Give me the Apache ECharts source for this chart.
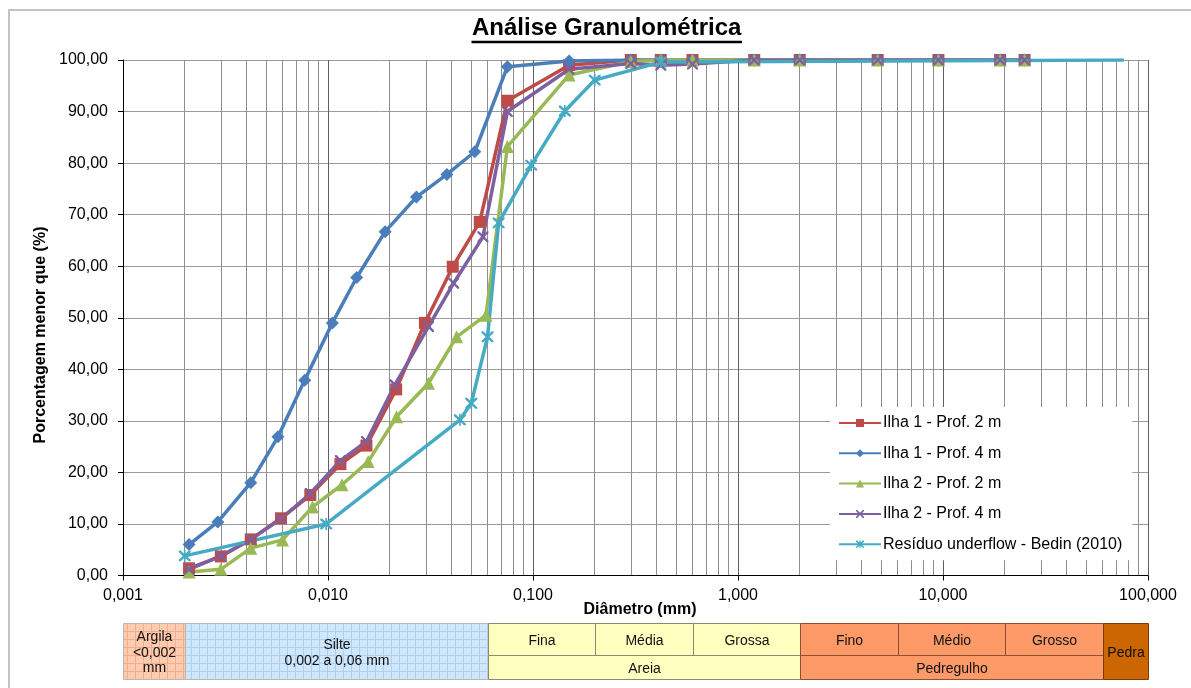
<!DOCTYPE html>
<html>
<head>
<meta charset="utf-8">
<script src="https://cdn.jsdelivr.net/npm/echarts@6/dist/echarts.min.js"></script>
<style>
html,body{margin:0;padding:0;background:#fff;}
#chart{width:1191px;height:688px;}
</style>
</head>
<body>
<div id="chart"></div>
<script>
// ---------------- DATA ----------------
const seriesNames = [
  'Ilha 1 - Prof. 2 m',
  'Ilha 1 - Prof. 4 m',
  'Ilha 2 - Prof. 2 m',
  'Ilha 2 - Prof. 4 m',
  'Resíduo underflow - Bedin (2010)'
];

const diamIlha1Prof2 = [0.0021, 0.0030, 0.0042, 0.0059, 0.0082, 0.0115, 0.0154, 0.0215, 0.0297, 0.0406, 0.055, 0.075, 0.15, 0.3, 0.42, 0.6, 1.2, 2.0, 4.8, 9.5, 19, 25];
const pctIlha1Prof2  = [1.4, 3.7, 7.0, 11.1, 15.6, 21.6, 25.2, 36.1, 49.0, 59.9, 68.6, 92.1, 99.0, 100, 100, 100, 100, 100, 100, 100, 100, 100];

const diamIlha1Prof4 = [0.0021, 0.0029, 0.0042, 0.0057, 0.0077, 0.0105, 0.0138, 0.019, 0.027, 0.038, 0.052, 0.075, 0.15, 0.3, 0.42, 0.6, 1.2, 2.0, 4.8, 9.5, 19, 25];
const pctIlha1Prof4  = [6.0, 10.4, 18.0, 26.9, 37.9, 49.0, 57.8, 66.7, 73.4, 77.8, 82.2, 98.7, 99.8, 100, 100, 100, 100, 100, 100, 100, 100, 100];

const diamIlha2Prof2 = [0.0021, 0.0030, 0.0042, 0.0060, 0.0084, 0.0117, 0.0157, 0.0216, 0.0309, 0.0424, 0.059, 0.075, 0.15, 0.3, 0.42, 0.6, 1.2, 2.0, 4.8, 9.5, 19, 25];
const pctIlha2Prof2  = [0.7, 1.2, 5.3, 6.9, 13.3, 17.6, 22.1, 30.8, 37.3, 46.3, 50.5, 83.2, 97.1, 99.7, 100, 100, 100, 100, 100, 100, 100, 100];

const diamIlha2Prof4 = [0.0021, 0.0030, 0.0042, 0.0059, 0.0082, 0.0115, 0.0154, 0.0212, 0.0309, 0.041, 0.057, 0.075, 0.15, 0.3, 0.42, 0.6, 1.2, 2.0, 4.8, 9.5, 19, 25];
const pctIlha2Prof4  = [1.2, 3.8, 7.0, 11.0, 15.9, 22.3, 26.0, 37.0, 48.3, 56.7, 65.7, 90.0, 98.2, 99.3, 99.0, 99.2, 100, 100, 100, 100, 100, 100];

const diamBedin = [0.002, 0.0098, 0.044, 0.050, 0.060, 0.068, 0.098, 0.143, 0.2, 0.42, 76.2];
const pctBedin  = [3.8, 10.0, 30.2, 33.4, 46.3, 68.4, 79.6, 90.1, 96.1, 99.6, 100];

const xTickLabels = ['0,001', '0,010', '0,100', '1,000', '10,000', '100,000'];
const yTickLabels = ['0,00', '10,00', '20,00', '30,00', '40,00', '50,00', '60,00', '70,00', '80,00', '90,00', '100,00'];

// Grain-size classification table (diameter limits in mm)
const zoneNames = ['Argila\n<0,002\nmm', 'Silte\n0,002 a 0,06 mm', 'Fina', 'Média', 'Grossa', 'Areia', 'Fino', 'Médio', 'Grosso', 'Pedregulho', 'Pedra'];
const zoneFrom  = [0.001, 0.002, 0.06, 0.2, 0.6, 0.06, 2, 6, 20, 2, 60];
const zoneTo    = [0.002, 0.06, 0.2, 0.6, 2, 2, 6, 20, 60, 60, 100];
const zoneRow   = ['full', 'full', 'top', 'top', 'top', 'bottom', 'top', 'top', 'top', 'bottom', 'full'];
const zoneKind  = ['argila', 'silte', 'areia', 'areia', 'areia', 'areia', 'pedregulho', 'pedregulho', 'pedregulho', 'pedregulho', 'pedra'];

// ---------------- STYLE ----------------
const FONT = '"Liberation Sans", Arial, Helvetica, sans-serif';
const colors = ['#BE4B48', '#4A7EBB', '#98B954', '#7D60A0', '#46AAC5'];
const ROW_SPAN = { full: [0, 56], top: [0, 32], bottom: [32, 56] };

function makePattern(bg, line, size) {
  const c = document.createElement('canvas');
  c.width = size; c.height = size;
  const g = c.getContext('2d');
  g.fillStyle = bg; g.fillRect(0, 0, size, size);
  g.fillStyle = line;
  g.fillRect(size - 1, 0, 1, size);
  g.fillRect(0, size - 1, size, 1);
  return { image: c, repeat: 'repeat' };
}

const ZONE_STYLE = {
  argila:     { fill: makePattern('#fdcbb0', '#f5ae8c', 8), stroke: '#b8b8b8' },
  silte:      { fill: makePattern('#d0e6fb', '#acd0f0', 8), stroke: '#b8b8b8' },
  areia:      { fill: '#ffffc0', stroke: '#8a8a70' },
  pedregulho: { fill: '#fe9a68', stroke: '#8a5030' },
  pedra:      { fill: '#cc6600', stroke: '#7a3a10' }
};

const symX = 'path://M0,0L3,0L10,7L17,0L20,0L20,3L13,10L20,17L20,20L17,20L10,13L3,20L0,20L0,17L7,10L0,3Z';
const symAst = 'path://M0,0L3,0L10,7L17,0L20,0L20,3L13,10L20,17L20,20L17,20L10,13L3,20L0,20L0,17L7,10L0,3Z M8.6,-1L11.4,-1L11.4,21L8.6,21Z';

const seriesDefs = [
  { d: diamIlha1Prof2, v: pctIlha1Prof2, symbol: 'rect', size: 12 },
  { d: diamIlha1Prof4, v: pctIlha1Prof4, symbol: 'diamond', size: 13 },
  { d: diamIlha2Prof2, v: pctIlha2Prof2, symbol: 'triangle', size: 13 },
  { d: diamIlha2Prof4, v: pctIlha2Prof4, symbol: symX, size: 11 },
  { d: diamBedin, v: pctBedin, symbol: symAst, size: 12, hideLast: true }
];

// lines (legend entries) – markers drawn by overlay scatter series on top
const lineSeries = seriesDefs.map((s, i) => ({
  name: seriesNames[i],
  type: 'line',
  xAxisIndex: 0,
  yAxisIndex: 0,
  data: s.d.map((d, k) => [d, s.v[k]]),
  symbol: s.symbol,
  symbolSize: s.size,
  showSymbol: false,
  lineStyle: { color: colors[i], width: 3.5 },
  itemStyle: { color: colors[i] },
  z: 3,
  animation: false,
  silent: true
}));

const markerSeries = seriesDefs.map((s, i) => ({
  name: seriesNames[i] + ' (marcadores)',
  type: 'scatter',
  xAxisIndex: 0,
  yAxisIndex: 0,
  data: s.d.map((d, k) => [d, s.v[k]]),
  symbol: s.symbol,
  symbolSize: function (val, params) {
    return (s.hideLast && params.dataIndex === s.d.length - 1) ? 0 : s.size;
  },
  itemStyle: { color: colors[i], opacity: 1 },
  z: 5,
  animation: false,
  silent: true
}));

const tableSeries = {
  type: 'custom',
  xAxisIndex: 1,
  yAxisIndex: 1,
  silent: true,
  clip: false,
  animation: false,
  data: zoneNames.map((n, i) => [zoneFrom[i], zoneTo[i], i]),
  encode: { x: [0, 1] },
  renderItem: function (params, api) {
    const i = api.value(2);
    const span = ROW_SPAN[zoneRow[i]];
    const p0 = api.coord([api.value(0), span[0]]);
    const p1 = api.coord([api.value(1), span[1]]);
    const st = ZONE_STYLE[zoneKind[i]];
    const x = Math.round(p0[0]) + 0.5, y = Math.round(p0[1]) + 0.5;
    const w = Math.round(p1[0]) - Math.round(p0[0]);
    const h = Math.round(p1[1]) - Math.round(p0[1]);
    return {
      type: 'group',
      children: [
        { type: 'rect', shape: { x: x, y: y, width: w, height: h },
          style: { fill: st.fill, stroke: st.stroke, lineWidth: 1 } },
        { type: 'text',
          style: { text: zoneNames[i], x: x + w / 2, y: y + h / 2 + 1.5,
                   align: 'center', verticalAlign: 'middle',
                   font: '14px ' + FONT, fill: '#111', lineHeight: 15.5 } }
      ]
    };
  }
};

const chart = echarts.init(document.getElementById('chart'), null, { renderer: 'canvas' });

chart.setOption({
  backgroundColor: '#ffffff',
  animation: false,
  textStyle: { fontFamily: FONT },
  grid: [
    { left: 123, right: 43, top: 60, height: 515.5, containLabel: false },
    { left: 123, right: 43, top: 623, height: 56, containLabel: false }
  ],
  xAxis: [
    {
      type: 'log', logBase: 10, min: 0.001, max: 100, gridIndex: 0,
      axisLine: { show: true, onZero: false, lineStyle: { color: '#000', width: 1 } },
      axisTick: { show: true, inside: false, length: 5, lineStyle: { color: '#000' } },
      minorTick: { show: false, splitNumber: 9 },
      axisLabel: {
        margin: 12, fontSize: 16, color: '#000', fontFamily: FONT,
        formatter: function (v) {
          const lg = Math.round(Math.log10(v)) + 3;
          return xTickLabels[lg] !== undefined ? xTickLabels[lg] : '';
        }
      },
      splitLine: { show: true, lineStyle: { color: '#606060', width: 1 } },
      minorSplitLine: { show: true, lineStyle: { color: '#8e8e8e', width: 1 } }
    },
    {
      type: 'log', logBase: 10, min: 0.001, max: 100, gridIndex: 1, show: false
    }
  ],
  yAxis: [
    {
      type: 'value', min: 0, max: 100, interval: 10, gridIndex: 0,
      axisLine: { show: true, lineStyle: { color: '#000', width: 1 } },
      axisTick: { show: true, inside: false, length: 5, lineStyle: { color: '#000' } },
      axisLabel: {
        margin: 15, fontSize: 16, color: '#000', fontFamily: FONT,
        formatter: function (v) { return yTickLabels[Math.round(v / 10)]; }
      },
      splitLine: { show: true, lineStyle: { color: '#9a9a9a', width: 1 } }
    },
    {
      type: 'value', min: 0, max: 56, inverse: true, gridIndex: 1, show: false
    }
  ],
  legend: {
    data: seriesNames,
    orient: 'vertical',
    left: 830,
    top: 407,
    backgroundColor: '#ffffff',
    padding: [8, 10, 8, 8],
    itemWidth: 42,
    itemHeight: 10,
    itemGap: 14.3,
    selectedMode: false,
    textStyle: { fontSize: 16, color: '#000', fontFamily: FONT, lineHeight: 16, padding: [0, 0, 0, -3] }
  },
  graphic: [
    { type: 'rect', z: -10, silent: true,
      shape: { x: 9, y: 10, width: 1200, height: 720 },
      style: { fill: 'none', stroke: '#c4c4c4', lineWidth: 2 } },
    { type: 'text', silent: true, z: 10,
      style: { text: 'Análise Granulométrica', x: 606.7, y: 28.5, align: 'center', verticalAlign: 'middle',
               font: 'bold 24px ' + FONT, fill: '#000' } },
    { type: 'rect', silent: true, z: 10,
      shape: { x: 471.5, y: 40.8, width: 270.5, height: 2.4 },
      style: { fill: '#000' } },
    { type: 'text', silent: true, z: 10,
      style: { text: 'Diâmetro (mm)', x: 640, y: 609.5, align: 'center', verticalAlign: 'middle',
               font: 'bold 16px ' + FONT, fill: '#000' } },
    { type: 'text', silent: true, z: 10, x: 40.5, y: 335, rotation: Math.PI / 2,
      style: { text: 'Porcentagem menor que (%)', x: 0, y: 0, align: 'center', verticalAlign: 'middle',
               font: 'bold 16px ' + FONT, fill: '#000' } }
  ],
  series: lineSeries.concat(markerSeries, [tableSeries])
});
</script>
</body>
</html>
